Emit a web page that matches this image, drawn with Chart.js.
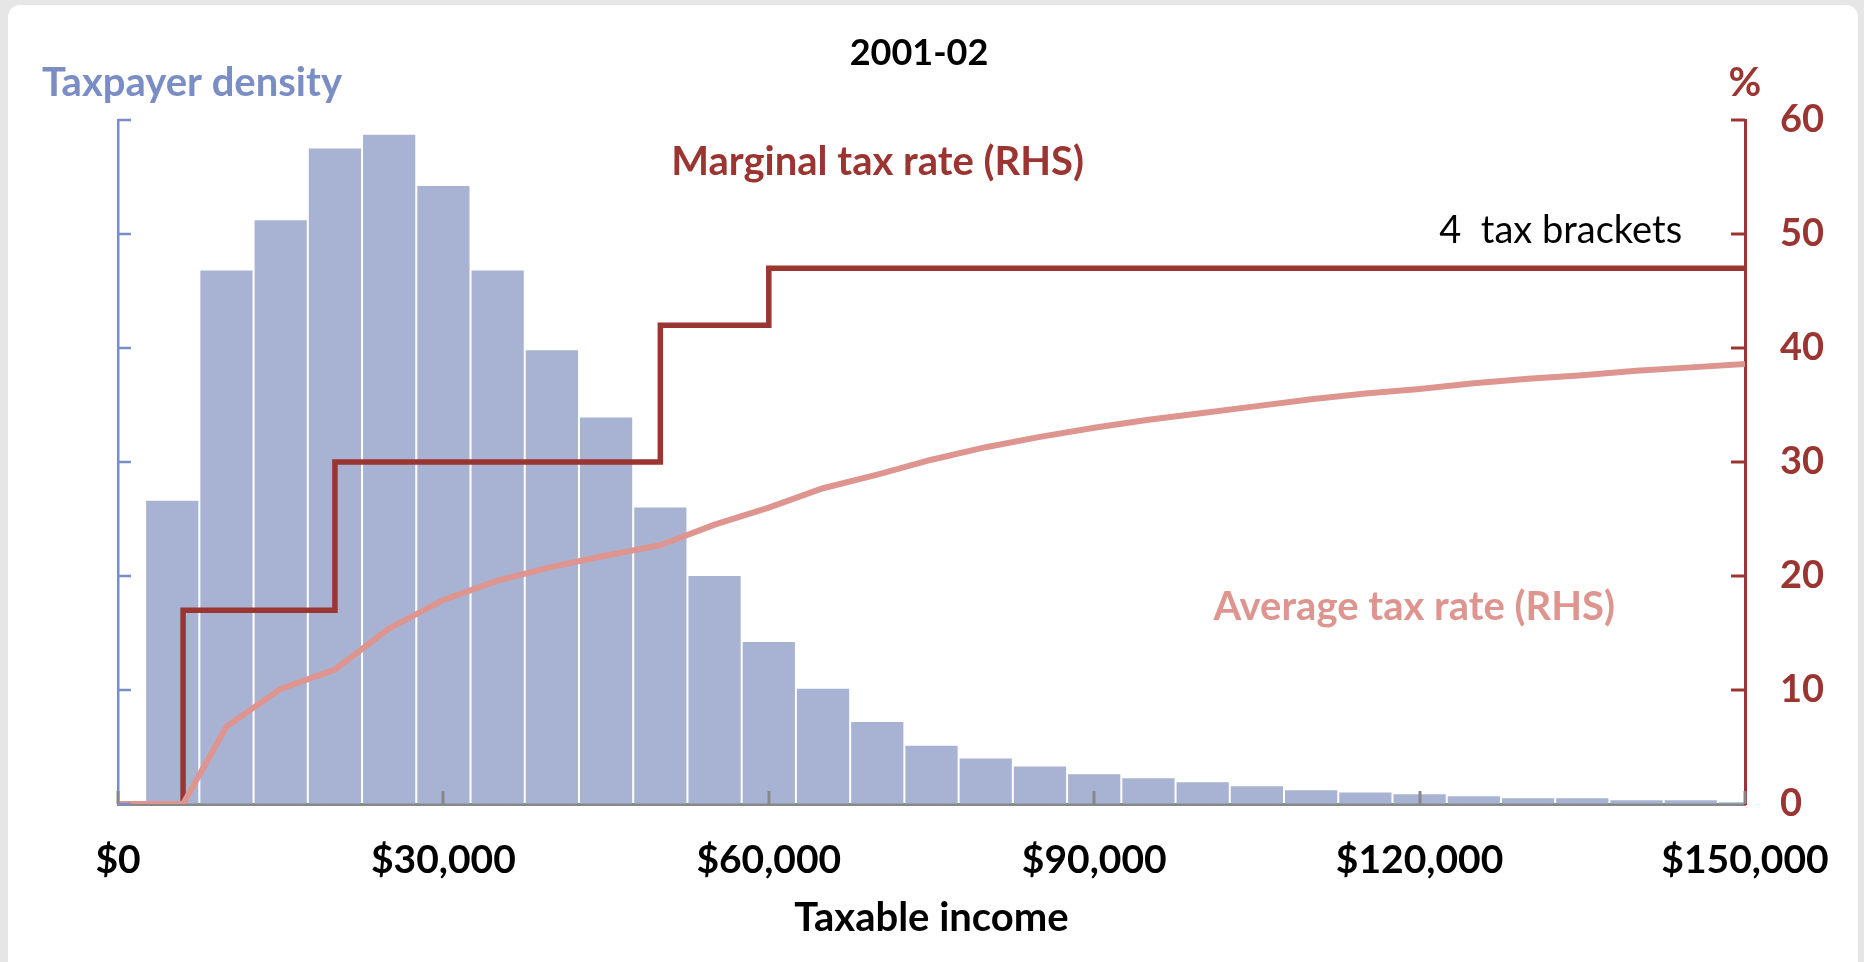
<!DOCTYPE html>
<html>
<head>
<meta charset="utf-8">
<script src="https://cdn.jsdelivr.net/npm/chart.js@4.4.1/dist/chart.umd.min.js"></script>
<style>
  html, body { margin: 0; padding: 0; width: 1864px; height: 962px; overflow: hidden; background: #e6e6e6; }
  #card { position: absolute; left: 8px; top: 5px; width: 1850px; height: 990px; background: #fff; border-radius: 12px; }
  #taxChart { position: absolute; left: 0; top: 0; }
</style>
</head>
<body>
<div id="card"></div>
<canvas id="taxChart" width="1864" height="962"></canvas>
<script>

// histogram of taxpayers, $5,000 bins (bin centres)
var binMid = [5000, 10000, 15000, 20000, 25000, 30000, 35000, 40000, 45000, 50000,
              55000, 60000, 65000, 70000, 75000, 80000, 85000, 90000, 95000, 100000,
              105000, 110000, 115000, 120000, 125000, 130000, 135000, 140000, 145000, 150000];
var density = [26.6, 46.8, 51.2, 57.5, 58.7, 54.2, 46.8, 39.8, 33.9, 26.0,
               20.0, 14.2, 10.1, 7.2, 5.1, 4.0, 3.3, 2.6, 2.25, 1.9,
               1.55, 1.2, 1.0, 0.85, 0.67, 0.5, 0.5, 0.32, 0.32, 0.15];

// marginal rate steps (rate applies from that income)
var bracketStart = [0, 6000, 20000, 50000, 60000, 150000];
var marginalRate = [0, 17, 30, 42, 47, 47];

// average tax rate
var avgIncome = [0, 6000, 10000, 15000, 20000, 25000, 30000, 35000, 40000, 45000, 50000,
                 55000, 60000, 65000, 70000, 75000, 80000, 85000, 90000, 95000, 100000,
                 105000, 110000, 115000, 120000, 125000, 130000, 135000, 140000, 145000, 150000];
var avgRate = [0, 0, 6.8, 10.1, 11.8, 15.4, 17.9, 19.6, 20.8, 21.8, 22.7,
               24.5, 26.0, 27.7, 28.9, 30.2, 31.3, 32.2, 33.0, 33.7, 34.3,
               34.9, 35.5, 36.0, 36.4, 36.9, 37.3, 37.6, 38.0, 38.3, 38.6];

var incomeTicks = [0, 30000, 60000, 90000, 120000, 150000];
var rateTicks = [0, 10, 20, 30, 40, 50, 60];

var blue = '#7a8dc5';
var darkRed = '#9b3531';
var pink = '#de958f';

Chart.defaults.font.family = 'Lato';

function pairs(xs, ys) {
  return xs.map(function (v, i) { return { x: v, y: ys[i] }; });
}

var extras = {
  id: 'extras',
  afterDatasetsDraw: function (chart) {
    var ctx = chart.ctx, area = chart.chartArea;
    var x = chart.scales.x, y = chart.scales.y, y2 = chart.scales.y2;
    ctx.save();
    ctx.lineCap = 'butt';

    // inward tick marks
    ctx.strokeStyle = '#888888';
    ctx.lineWidth = 3;
    incomeTicks.forEach(function (v) {
      var px = Math.round(x.getPixelForValue(v));
      ctx.beginPath(); ctx.moveTo(px, area.bottom); ctx.lineTo(px, area.bottom - 13); ctx.stroke();
    });
    ctx.strokeStyle = blue;
    ctx.lineWidth = 2.5;
    rateTicks.forEach(function (v) {
      var py = y.getPixelForValue(v);
      ctx.beginPath(); ctx.moveTo(area.left, py); ctx.lineTo(area.left + 13, py); ctx.stroke();
    });
    ctx.strokeStyle = darkRed;
    ctx.lineWidth = 3;
    rateTicks.forEach(function (v) {
      if (v === 0) return;
      var py = y2.getPixelForValue(v);
      ctx.beginPath(); ctx.moveTo(area.right, py); ctx.lineTo(area.right - 14, py); ctx.stroke();
    });

    // labels
    ctx.textBaseline = 'middle';
    ctx.fillStyle = '#000';
    ctx.textAlign = 'center';
    ctx.font = 'bold 36px Lato';
    ctx.fillText('2001-02', 919, 53);

    ctx.font = 'bold 40px Lato';
    ctx.fillStyle = blue;
    ctx.textAlign = 'left';
    ctx.fillText('Taxpayer density', 42, 83);
    ctx.fillStyle = darkRed;
    ctx.textAlign = 'center';
    ctx.fillText('%', area.right, 83);

    ctx.textAlign = 'left';
    ctx.fillText('Marginal tax rate (RHS)', x.getPixelForValue(51000), y2.getPixelForValue(56.3));
    ctx.fillStyle = pink;
    ctx.fillText('Average tax rate (RHS)', x.getPixelForValue(101000), y2.getPixelForValue(17.3));

    ctx.font = '38px Lato';
    ctx.fillStyle = '#000';
    ctx.textAlign = 'right';
    ctx.fillText('4  tax brackets', x.getPixelForValue(144200), y2.getPixelForValue(50.3));
    ctx.restore();
  }
};

var taxChart = new Chart(document.getElementById('taxChart'), {
  type: 'bar',
  data: {
    datasets: [
      {
        type: 'line',
        label: 'Average tax rate (RHS)',
        data: pairs(avgIncome, avgRate),
        yAxisID: 'y2',
        borderColor: pink,
        borderWidth: 6,
        pointRadius: 0,
        tension: 0,
        order: 1
      },
      {
        type: 'line',
        label: 'Marginal tax rate (RHS)',
        data: pairs(bracketStart, marginalRate),
        yAxisID: 'y2',
        stepped: true,
        borderColor: darkRed,
        borderWidth: 5.5,
        borderJoinStyle: 'miter',
        pointRadius: 0,
        order: 2
      },
      {
        label: 'Taxpayer density',
        data: pairs(binMid, density),
        yAxisID: 'y',
        backgroundColor: '#a8b3d3',
        barPercentage: 0.963,
        categoryPercentage: 1,
        clip: 0,
        order: 3
      }
    ]
  },
  options: {
    responsive: false,
    devicePixelRatio: 1,
    animation: false,
    layout: { padding: { top: 120 } },
    plugins: {
      legend: { display: false },
      tooltip: { enabled: false },
      title: { display: false }
    },
    scales: {
      x: {
        type: 'linear',
        position: 'bottom',
        min: 0,
        max: 150000,
        offset: false,
        afterFit: function (s) { s.height = 158; },
        grid: { display: true, drawOnChartArea: false, drawTicks: false },
        border: { display: true, color: '#888888', width: 3 },
        ticks: {
          stepSize: 30000,
          maxRotation: 0,
          autoSkip: false,
          padding: 33,
          color: '#000',
          font: { size: 39, weight: 'bold' },
          callback: function (v) { return '$' + v.toLocaleString('en-US'); }
        },
        title: {
          display: true,
          text: 'Taxable income',
          color: '#000',
          font: { size: 40, weight: 'bold' },
          padding: { top: 0, bottom: 20 }
        }
      },
      y: {
        position: 'left',
        min: 0,
        max: 60,
        afterFit: function (s) { s.width = 118; },
        grid: { display: true, drawOnChartArea: false, drawTicks: false },
        border: { display: true, color: blue, width: 2.5 },
        ticks: { display: false, stepSize: 10 }
      },
      y2: {
        position: 'right',
        min: 0,
        max: 60,
        afterFit: function (s) { s.width = 119; },
        grid: { display: true, drawOnChartArea: false, drawTicks: false },
        border: { display: true, color: darkRed, width: 3 },
        ticks: {
          stepSize: 10,
          padding: 35,
          color: darkRed,
          font: { size: 38, weight: 'bold' }
        }
      }
    }
  },
  plugins: [extras]
});
</script>
</body>
</html>
